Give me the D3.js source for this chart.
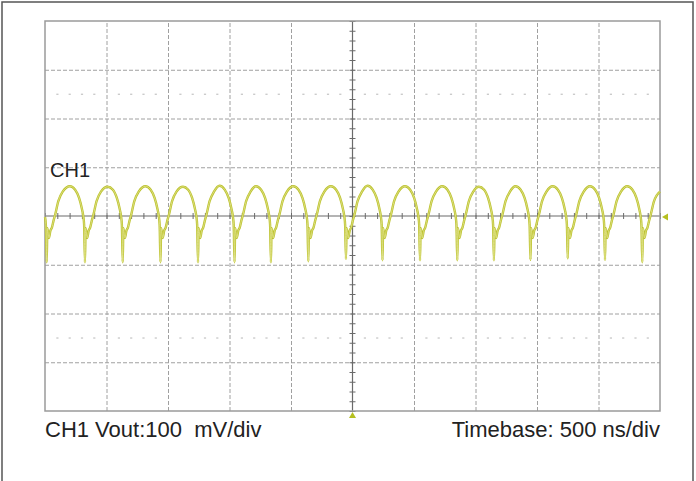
<!DOCTYPE html>
<html>
<head>
<meta charset="utf-8">
<script src="https://cdn.jsdelivr.net/npm/d3@7"></script>
<style>
html,body{margin:0;padding:0;background:#fff;}
svg{display:block;}
text{font-family:"Liberation Sans",Arial,Helvetica,sans-serif;white-space:pre;}
</style>
</head>
<body>
<script>
// ---- data ----
const timeDivsNs = [0,500,1000,1500,2000,2500,3000,3500,4000,4500,5000];
const voltDivsMv = [-400,-300,-200,-100,0,100,200,300,400];
const channelLabel = "CH1";
const scaleLabel = "CH1 Vout:100  mV/div";
const timebaseLabel = "Timebase: 500 ns/div";
const markerLevelsMv = [-250, 250];   // faint dotted rows
// trace: [time ns, voltage mV]
const trace = [
[0,-2],[7,-18],[14,-95],
[19,-25],[32,-45],[44,-30],[56,-24],[69,-10],[80,0],[109,31],[144,50],[203,61],[245,54],[277,37],[299,16],[311,0],[318,-18],[325,-95],
[330,-25],[343,-45],[355,-30],[367,-24],[380,-10],[391,0],[420,31],[455,50],[510,60],[552,54],[584,37],[606,16],[618,0],[625,-18],[632,-95],
[637,-25],[650,-45],[662,-30],[674,-24],[687,-10],[698,0],[727,31],[762,50],[817,61],[859,54],[891,37],[913,16],[925,0],[932,-18],[939,-95],
[944,-25],[957,-45],[969,-30],[981,-24],[994,-10],[1005,0],[1034,31],[1069,50],[1122,60],[1164,54],[1196,37],[1218,16],[1230,0],[1237,-18],[1244,-95],
[1249,-25],[1262,-45],[1274,-30],[1286,-24],[1299,-10],[1310,0],[1339,31],[1374,50],[1419,62],[1461,54],[1493,37],[1515,16],[1527,0],[1534,-18],[1541,-95],
[1546,-25],[1559,-45],[1571,-30],[1583,-24],[1596,-10],[1607,0],[1636,31],[1671,50],[1715,61],[1757,54],[1789,37],[1811,16],[1823,0],[1830,-18],[1837,-95],
[1842,-25],[1855,-45],[1867,-30],[1879,-24],[1892,-10],[1903,0],[1932,31],[1967,50],[2019,61],[2061,54],[2093,37],[2115,16],[2127,0],[2134,-18],[2141,-93],
[2146,-25],[2159,-45],[2171,-30],[2183,-24],[2196,-10],[2207,0],[2236,31],[2271,50],[2325,61],[2367,54],[2399,37],[2421,16],[2433,0],[2440,-18],[2447,-88],
[2452,-25],[2465,-45],[2477,-30],[2489,-24],[2502,-10],[2513,0],[2542,31],[2577,50],[2622,62],[2664,54],[2696,37],[2718,16],[2730,0],[2737,-18],[2744,-91],
[2749,-25],[2762,-45],[2774,-30],[2786,-24],[2799,-10],[2810,0],[2839,31],[2874,50],[2927,61],[2969,54],[3001,37],[3023,16],[3035,0],[3042,-18],[3049,-91],
[3054,-25],[3067,-45],[3079,-30],[3091,-24],[3104,-10],[3115,0],[3144,31],[3179,50],[3230,61],[3272,54],[3304,37],[3326,16],[3338,0],[3345,-18],[3352,-91],
[3357,-25],[3370,-45],[3382,-30],[3394,-24],[3407,-10],[3418,0],[3447,31],[3482,50],[3528,60],[3570,54],[3602,37],[3624,16],[3636,0],[3643,-18],[3650,-91],
[3655,-25],[3668,-45],[3680,-30],[3692,-24],[3705,-10],[3716,0],[3745,31],[3780,50],[3825,61],[3867,54],[3899,37],[3921,16],[3933,0],[3940,-18],[3947,-90],
[3952,-25],[3965,-45],[3977,-30],[3989,-24],[4002,-10],[4013,0],[4042,31],[4077,50],[4128,61],[4170,54],[4202,37],[4224,16],[4236,0],[4243,-18],[4250,-87],
[4255,-25],[4268,-45],[4280,-30],[4292,-24],[4305,-10],[4316,0],[4345,31],[4380,50],[4431,61],[4473,54],[4505,37],[4527,16],[4539,0],[4546,-18],[4553,-90],
[4558,-25],[4571,-45],[4583,-30],[4595,-24],[4608,-10],[4619,0],[4648,31],[4683,50],[4734,61],[4776,54],[4808,37],[4830,16],[4842,0],[4849,-18],[4856,-95],
[4861,-25],[4874,-45],[4886,-30],[4898,-24],[4911,-10],[4922,0],[4951,30],[5000,50]
];

// ---- layout ----
const W = 696, H = 481;
const L = 45, R = 660, T = 21, B = 411;

const x = d3.scaleLinear().domain([0, 5000]).range([L, R]);
const y = d3.scaleLinear().domain([-400, 400]).range([B, T]);

const svg = d3.select("body").append("svg").attr("width", W).attr("height", H);

// outer frame
svg.append("rect").attr("x", 2).attr("y", 2).attr("width", 691).attr("height", 490)
  .attr("fill", "none").attr("stroke", "#555").attr("stroke-width", 1.5);

// grid via axes
const innerX = timeDivsNs.slice(1, -1);
const innerY = voltDivsMv.slice(1, -1).filter(v => v !== 0);

svg.append("g").attr("transform", `translate(0,${B})`)
  .call(d3.axisBottom(x).tickValues(innerX.filter(v => v !== 2500)).tickSize(-(B - T)).tickFormat(""))
  .call(g => g.select(".domain").remove())
  .call(g => g.selectAll("line").attr("stroke", "#a0a0a0").attr("stroke-width", 1).attr("stroke-dasharray", "4,2"));

svg.append("g").attr("transform", `translate(${L},0)`)
  .call(d3.axisLeft(y).tickValues(innerY).tickSize(-(R - L)).tickFormat(""))
  .call(g => g.select(".domain").remove())
  .call(g => g.selectAll("line").attr("stroke", "#a0a0a0").attr("stroke-width", 1).attr("stroke-dasharray", "4,2"));

// faint dotted marker rows (4 dots per division)
const dotTimes = [];
timeDivsNs.slice(0, -1).forEach(t0 => { [100, 200, 300, 400].forEach(o => dotTimes.push(t0 + o)); });
markerLevelsMv.forEach(mv => {
  svg.append("g").selectAll("rect").data(dotTimes).join("rect")
    .attr("x", d => x(d) - 1).attr("y", y(mv) - 0.5).attr("width", 2.2).attr("height", 1.3)
    .attr("fill", "#c8c8c8");
});

// center axes with minor ticks
const minorX = d3.range(0, 5001, 100);
const minorY = d3.range(-400, 401, 20);
svg.append("g").attr("transform", `translate(0,${y(0)})`)
  .call(d3.axisBottom(x).tickValues(minorX).tickSize(3).tickFormat(""))
  .call(g => g.select(".domain").attr("d", `M${L},0H${R}`).attr("stroke", "#6a6a6a").attr("stroke-width", 1.2))
  .call(g => g.selectAll(".tick line").attr("y1", -3).attr("stroke", "#6a6a6a"));
svg.append("g").attr("transform", `translate(${x(2500)},0)`)
  .call(d3.axisLeft(y).tickValues(minorY).tickSize(3).tickFormat(""))
  .call(g => g.select(".domain").attr("d", `M0,${T}V${B}`).attr("stroke", "#6a6a6a").attr("stroke-width", 1.2))
  .call(g => g.selectAll(".tick line").attr("x1", 3).attr("stroke", "#6a6a6a"));

// border of the graticule
svg.append("rect").attr("x", L).attr("y", T).attr("width", R - L).attr("height", B - T)
  .attr("fill", "none").attr("stroke", "#9a9a9a").attr("stroke-width", 1.5);

// waveform
const line = d3.line().x(d => x(d[0])).y(d => y(d[1])).curve(d3.curveMonotoneX);
svg.append("path").datum(trace).attr("d", line)
  .attr("fill", "none").attr("stroke", "#bcc22e").attr("stroke-width", 2.4).attr("stroke-linejoin", "round");
svg.append("path").datum(trace).attr("d", line)
  .attr("fill", "none").attr("stroke", "#e2e590").attr("stroke-width", 0.8).attr("stroke-linejoin", "round");

// trigger markers
svg.append("path").attr("d", `M${R + 2},${y(0) + 1}l6,-3.5v7z`).attr("fill", "#b6c020");
svg.append("path").attr("d", `M${x(2500)},${B + 1}l-3.5,6h7z`).attr("fill", "#b6c020");

// labels
svg.append("text").attr("x", 50).attr("y", 177).attr("font-size", 20).attr("fill", "#222").text(channelLabel);
svg.append("text").attr("x", L).attr("y", 437).attr("font-size", 22).attr("fill", "#222").text(scaleLabel);
svg.append("text").attr("x", R).attr("y", 437).attr("text-anchor", "end").attr("font-size", 22).attr("fill", "#222").text(timebaseLabel);
</script>
</body>
</html>
